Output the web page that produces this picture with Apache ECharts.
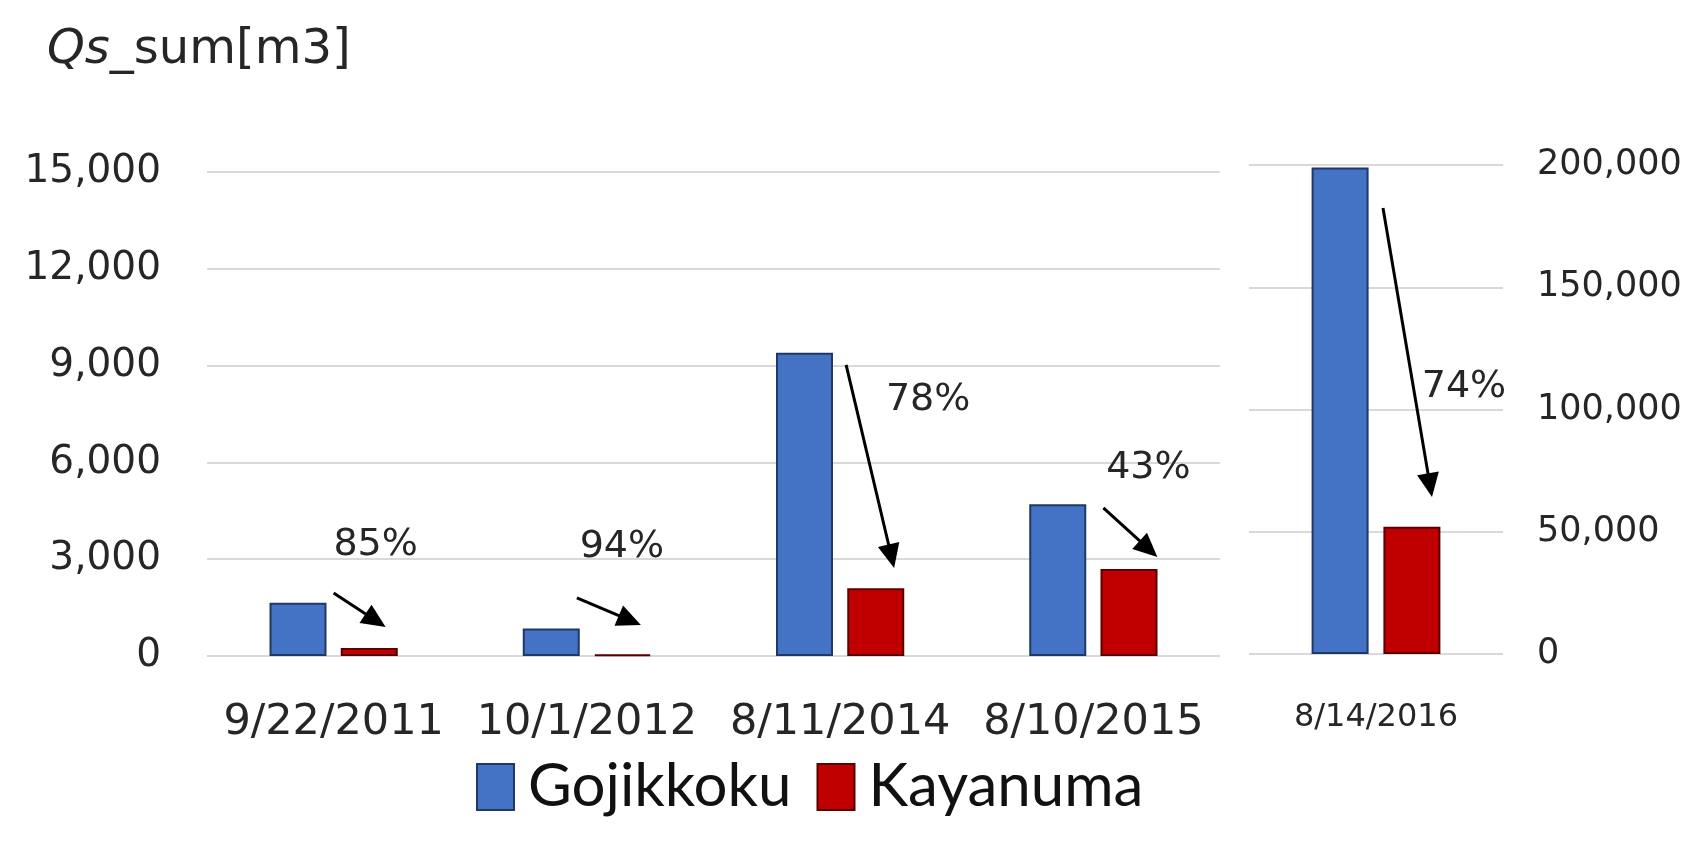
<!DOCTYPE html>
<html><head><meta charset="utf-8">
<script src="https://cdn.jsdelivr.net/npm/echarts@6/dist/echarts.min.js"></script>
<style>html,body{margin:0;padding:0;background:#fff}#c{width:1706px;height:846px}</style>
</head><body><div id="c"></div>
<script>
// ---- data ----
const categoriesLeft = ['9/22/2011', '10/1/2012', '8/11/2014', '8/10/2015'];
const categoriesRight = ['8/14/2016'];
const gojikkokuLeft = [1650, 850, 9400, 4700];
const kayanumaLeft = [250, 50, 2100, 2700];
const gojikkokuRight = [199000];
const kayanumaRight = [52000];
const seriesNames = ['Gojikkoku', 'Kayanuma'];
const reductionLabels = ['85%', '94%', '78%', '43%', '74%'];
// annotation anchors, in axis values
const arrowStartValues = [1950, 1800, 9020, 4590, 182400];
const arrowEndValues = [900, 960, 2730, 3070, 64200];
const labelValues = [3440, 3380, 7930, 5830, 109200];

// ---- styles ----
const FONT = 'DejaVu Sans';
const TXT = '#262626';
const BLUE = '#4472C4', BLUE_B = '#1F3864';
const RED = '#C00000', RED_B = '#5A0000';
const GRIDC = '#D9D9D9';

function bar(name, data, gi, color, border, gap) {
  return {
    name, type: 'bar', data, xAxisIndex: gi, yAxisIndex: gi,
    barWidth: 57, barGap: gap,
    itemStyle: { color, borderColor: border, borderWidth: 2 },
    emphasis: { disabled: true }
  };
}

const option = {
  animation: false,
  backgroundColor: '#fff',
  title: {
    text: '{q|Qs}{n|_sum[m3]}', left: 42, top: 22,
    textStyle: { rich: {
      q: { fontStyle: 'italic', fontWeight: 'normal', fontSize: 48, fontFamily: FONT, color: TXT },
      n: { fontWeight: 'normal', fontSize: 48, fontFamily: FONT, color: TXT }
    } }
  },
  legend: {
    data: seriesNames, left: 471, top: 752, itemWidth: 37, itemHeight: 46, itemGap: 25,
    icon: 'rect',
    textStyle: { fontFamily: 'Lato', fontSize: 60, color: '#111', padding: [0, 0, 0, 9] }
  },
  grid: [
    { left: 207, top: 172, width: 1013, height: 484 },
    { left: 1249, top: 165, width: 254, height: 489 }
  ],
  xAxis: [
    { type: 'category', gridIndex: 0, data: categoriesLeft,
      axisLine: { show: false }, axisTick: { show: false },
      axisLabel: { interval: 0, fontFamily: FONT, fontSize: 43, color: TXT, margin: 45 } },
    { type: 'category', gridIndex: 1, data: categoriesRight,
      axisLine: { show: false }, axisTick: { show: false },
      axisLabel: { interval: 0, fontFamily: FONT, fontSize: 32, color: TXT, margin: 48 } }
  ],
  yAxis: [
    { type: 'value', gridIndex: 0, min: 0, max: 15000, interval: 3000,
      axisLine: { show: false }, axisTick: { show: false },
      splitLine: { lineStyle: { color: GRIDC, width: 2 } },
      axisLabel: { fontFamily: FONT, fontSize: 39, color: TXT, margin: 46,
        formatter: v => v.toLocaleString('en-US') } },
    { type: 'value', gridIndex: 1, position: 'right', min: 0, max: 200000, interval: 50000,
      axisLine: { show: false }, axisTick: { show: false },
      splitLine: { lineStyle: { color: GRIDC, width: 2 } },
      axisLabel: { fontFamily: FONT, fontSize: 35, color: TXT, margin: 34,
        formatter: v => v.toLocaleString('en-US') } }
  ],
  series: [
    bar(seriesNames[0], gojikkokuLeft, 0, BLUE, BLUE_B, '25%'),
    bar(seriesNames[1], kayanumaLeft, 0, RED, RED_B, '25%'),
    bar(seriesNames[0], gojikkokuRight, 1, BLUE, BLUE_B, '26%'),
    bar(seriesNames[1], kayanumaRight, 1, RED, RED_B, '26%')
  ]
};

const chart = echarts.init(document.getElementById('c'), null, { renderer: 'canvas' });
chart.setOption(option);

// annotation layout: x offsets (px) from category centre: [arrow start, arrow tip, label centre]
const annOffsets = [[0, 52, 42], [-10, 54, 35], [6, 54, 88], [10, 64, 55], [7, 56, 88]];
const allCats = categoriesLeft.concat(categoriesRight);
const graphics = [];
for (let i = 0; i < allCats.length; i++) {
  const gi = i < categoriesLeft.length ? 0 : 1;
  const cat = allCats[i];
  const c0 = chart.convertToPixel({ gridIndex: gi }, [cat, arrowStartValues[i]]);
  const c1 = chart.convertToPixel({ gridIndex: gi }, [cat, arrowEndValues[i]]);
  const cl = chart.convertToPixel({ gridIndex: gi }, [cat, labelValues[i]]);
  const o = annOffsets[i];
  const x0 = c0[0] + o[0], y0 = c0[1];
  const x1 = c1[0] + o[1], y1 = c1[1];
  const dx = x1 - x0, dy = y1 - y0, L = Math.hypot(dx, dy);
  const ux = dx / L, uy = dy / L;
  const hl = 24, hw = 11;
  const bx = x1 - ux * hl, by = y1 - uy * hl;
  graphics.push({ type: 'line', silent: true,
    shape: { x1: x0, y1: y0, x2: bx + ux * 2, y2: by + uy * 2 },
    style: { stroke: '#000', lineWidth: 3 } });
  graphics.push({ type: 'polygon', silent: true,
    shape: { points: [[x1, y1], [bx - uy * hw, by + ux * hw], [bx + uy * hw, by - ux * hw]] },
    style: { fill: '#000' } });
  graphics.push({ type: 'text', silent: true, x: cl[0] + o[2], y: cl[1],
    style: { text: reductionLabels[i], fill: TXT, fontFamily: FONT, fontSize: 38,
      textAlign: 'center', textVerticalAlign: 'middle' } });
}
chart.setOption({ graphic: graphics });
</script>
</body></html>
